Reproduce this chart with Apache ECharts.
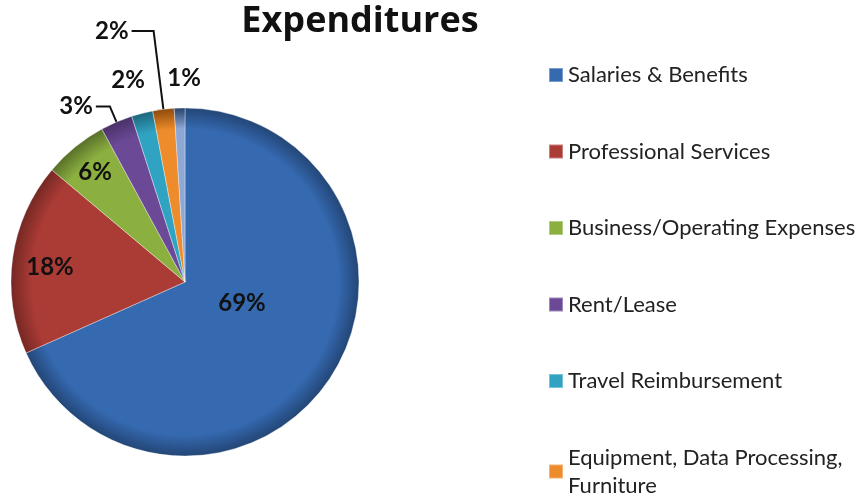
<!DOCTYPE html>
<html>
<head>
<meta charset="utf-8">
<script src="https://cdn.jsdelivr.net/npm/echarts@6/dist/echarts.min.js"></script>
<style>
  html, body { margin: 0; padding: 0; background: #fff; }
  #container { width: 861px; height: 499px; }
</style>
</head>
<body>
<div id="container"></div>
<script>
// Data
const categories = [
  'Salaries & Benefits',
  'Professional Services',
  'Business/Operating Expenses',
  'Rent/Lease',
  'Travel Reimbursement',
  'Equipment, Data Processing, Furniture',
  'Other'
];
const values = [69, 18, 6, 3, 2, 2, 1];
const colors = ['#3569b0', '#ab3b35', '#8bb040', '#6b4996', '#30a3c3', '#ee8b2b', '#8ea8d6'];
const legendCount = 6;

// Label placement relative to the pie centre; null = native outside label with leader line
const cx = 185, cy = 282, R = 174;
const labelAt = [
  [57, 21],
  [-135, -15],
  [-90, -110],
  null,
  [-57, -202],
  null,
  [-1, -204]
];
const leader = {
  3: { length: 17, length2: 14 },
  5: { length: 79, length2: 22 }
};

function shade(c) {
  return {
    type: 'radial', x: cx, y: cy, r: R, global: true,
    colorStops: [
      { offset: 0, color: c },
      { offset: 0.88, color: c },
      { offset: 1, color: echarts.color.modifyHSL(c, null, null, 0.3) }
    ]
  };
}

const container = document.getElementById('container');
const chart = echarts.init(container);

const option = {
  animation: false,
  title: {
    text: 'Expenditures',
    left: 355,
    textAlign: 'center',
    top: -1,
    textStyle: { fontFamily: 'Open Sans', fontWeight: 'bold', fontSize: 36, color: '#111' }
  },
  legend: {
    orient: 'vertical',
    left: 543,
    top: 56,
    height: 1000,
    data: categories.slice(0, legendCount).map((name, i) => ({
      name: name,
      itemStyle: { color: colors[i] }
    })),
    icon: 'rect',
    itemWidth: 14,
    itemHeight: 14,
    itemGap: 48.5,
    formatter: name => name.replace(', Furniture', ',\nFurniture'),
    textStyle: { fontFamily: 'Lato', fontSize: 22, lineHeight: 28, color: '#222' }
  },
  series: [{
    type: 'pie',
    center: [cx, cy],
    radius: R,
    startAngle: 90,
    clockwise: true,
    avoidLabelOverlap: false,
    data: categories.map((name, i) => {
      const item = { name: name, value: values[i], itemStyle: { color: shade(colors[i]) } };
      if (leader[i]) {
        item.label = { position: 'outside', distanceToLabelLine: 3 };
        item.labelLine = { show: true, length: leader[i].length, length2: leader[i].length2 };
      } else {
        item.labelLine = { show: false };
      }
      return item;
    }),
    itemStyle: { borderColor: 'rgba(255,255,255,0.35)', borderWidth: 1 },
    label: {
      show: true,
      position: 'inside',
      formatter: p => p.value + '%',
      fontFamily: 'Lato',
      fontWeight: 'bold',
      fontSize: 24,
      color: '#111'
    },
    labelLine: { lineStyle: { color: '#111', width: 2 }, smooth: false },
    labelLayout: function (p) {
      const l = labelAt[p.dataIndex];
      if (!l) return {};
      return { x: cx + l[0], y: cy + l[1], align: 'center', verticalAlign: 'middle' };
    }
  }]
};

chart.setOption(option);
</script>
</body>
</html>
